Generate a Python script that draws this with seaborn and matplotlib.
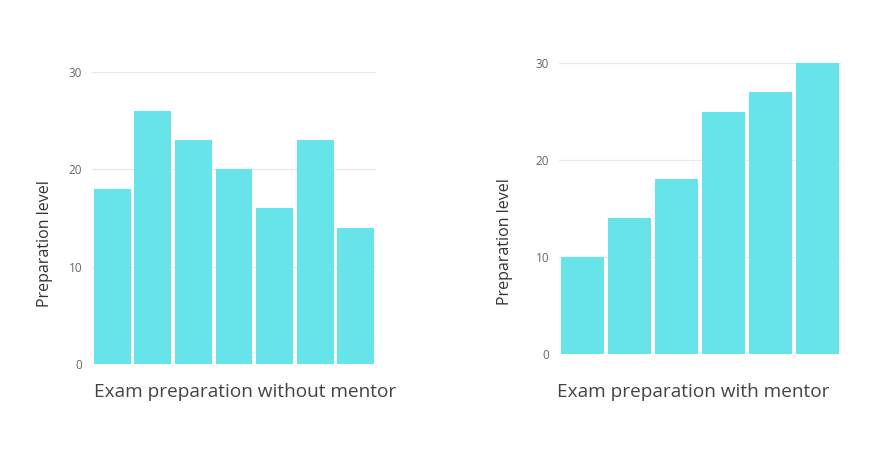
import matplotlib
matplotlib.use("Agg")
import matplotlib.pyplot as plt
import seaborn as sns
import pandas as pd

without_cats = ["A", "B", "C", "D", "E", "F", "G"]
without_vals = [18, 26, 23, 20, 16, 23, 14]
with_cats = ["A", "B", "C", "D", "E", "F"]
with_vals = [10, 14, 18, 25, 27, 30]
yticks = [0, 10, 20, 30]
left_xlabel = "Exam preparation without mentor"
right_xlabel = "Exam preparation with mentor"
ylabel = "Preparation level"

sns.set_theme(style="white")
plt.rcParams['font.family'] = ['Open Sans', 'DejaVu Sans']

BAR = "#67E4EA"
W, H = 877, 455
fig = plt.figure(figsize=(W / 100, H / 100), dpi=100)

def make(rect, cats, vals, xlabel, xlab_xy, ylab_xy):
    ax = fig.add_axes([rect[0] / W, 1 - rect[3] / H, (rect[2] - rect[0]) / W, (rect[3] - rect[1]) / H])
    df = pd.DataFrame({"cat": cats, "val": vals})
    sns.barplot(data=df, x="cat", y="val", color=BAR, saturation=1, width=0.91,
                linewidth=0, edgecolor="none", ax=ax, zorder=3)
    ax.set_ylim(0, 30)
    ax.set_xlim(-0.5, len(cats) - 0.5)
    ax.set_yticks(yticks)
    ax.set_yticklabels([str(t) for t in yticks], color="#666666", fontsize=8.5)
    ax.tick_params(axis="y", length=0, pad=7)
    ax.set_xticks([])
    for s in ax.spines.values():
        s.set_visible(False)
    ax.yaxis.grid(True, color="#e8e8e8", linewidth=0.9, zorder=0)
    ax.set_axisbelow(True)
    ax.set_xlabel(xlabel, fontsize=13.7, color="#444444")
    ax.set_ylabel(ylabel, fontsize=11.5, color="#333333")
    ax.xaxis.set_label_coords(*xlab_xy)
    ax.xaxis.label.set_va("center")
    ax.yaxis.set_label_coords(*ylab_xy)
    ax.yaxis.label.set_va("center")
    return ax

make((92, 72, 376, 364), without_cats, without_vals, left_xlabel, (0.539, -0.096), (-0.165, 0.414))
make((559, 63, 841, 354), with_cats, with_vals, right_xlabel, (0.475, -0.13), (-0.19, 0.385))

fig.savefig("out.png", dpi=100, facecolor="white")
